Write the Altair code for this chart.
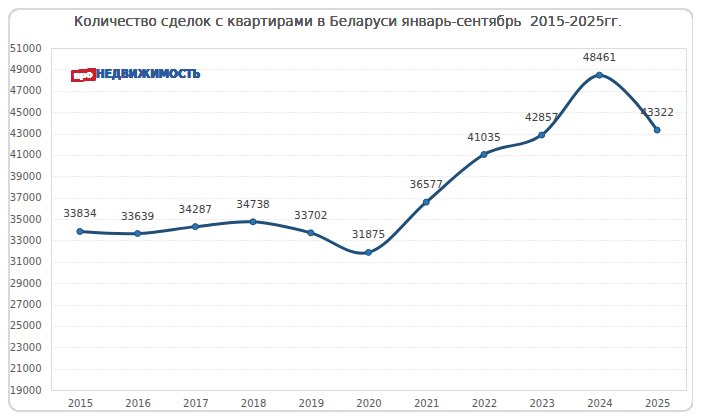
import altair as alt
import pandas as pd

years = ["2015", "2016", "2017", "2018", "2019", "2020", "2021", "2022", "2023", "2024", "2025"]
deals = [33834, 33639, 34287, 34738, 33702, 31875, 36577, 41035, 42857, 48461, 43322]
y_ticks = list(range(19000, 51001, 2000))
title_text = "Количество сделок с квартирами в Беларуси январь-сентябрь\u00a0\u00a02015-2025гг."

df = pd.DataFrame({"year": years, "deals": deals})
FONT = "DejaVu Sans"

x_enc = alt.X("year:N", sort=years, title=None,
              scale=alt.Scale(paddingInner=1, paddingOuter=0.5),
              axis=alt.Axis(labelAngle=0, ticks=False, domain=True, domainColor="#d9d9d9",
                            labelColor="#595959", labelFont=FONT, labelFontSize=10,
                            labelPadding=8, grid=False))
y_enc = alt.Y("deals:Q", title=None,
              scale=alt.Scale(domain=[19000, 51000], nice=False, zero=False),
              axis=alt.Axis(values=y_ticks, format="d", ticks=False, domain=False,
                            labelColor="#595959", labelFont=FONT, labelFontSize=10,
                            labelPadding=10, grid=True, gridColor="#d9d9d9",
                            gridDash=[1, 2]))

base = alt.Chart(df).encode(x=x_enc, y=y_enc)

line = base.mark_line(interpolate="cardinal", color="#1F4E79", strokeWidth=3)
pts = base.mark_point(filled=True, size=36, color="#2E75B6", opacity=1,
                      stroke="#1F4E79", strokeWidth=1)
labels = base.mark_text(dy=-17, font=FONT, fontSize=10.5, color="#404040").encode(
    text=alt.Text("deals:Q", format="d"))

border = alt.Chart(df).mark_rect(fill=None, stroke="#d9d9d9", strokeWidth=1.5,
                                 cornerRadius=10).encode(
    x=alt.value(-42), x2=alt.value(642), y=alt.value(-39), y2=alt.value(363))

title = alt.Chart(df).mark_text(text=title_text, font=FONT, fontSize=13.6,
                                fontWeight=200, color="#595959", align="center").encode(
    x=alt.value(297), y=alt.value(-26))

badge_path = "M-1,-0.35 L1,-0.6 L1,0.45 L-1,0.6 Z"
logo_bg = alt.Chart(df).mark_point(shape=badge_path, filled=True, color="#C8202F",
                                   opacity=1, size=560).encode(
    x=alt.value(32.5), y=alt.value(27))
logo_pro = alt.Chart(df).mark_text(text="про", font=FONT, fontSize=9, fontWeight="bold",
                                   color="white", angle=355).encode(
    x=alt.value(32), y=alt.value(27))
logo_name = alt.Chart(df).mark_text(text="НЕДВИЖИМОСТЬ",
                                    font="DejaVu Sans Condensed",
                                    fontSize=11.5, fontWeight="bold", color="#2B5A9A",
                                    align="left").encode(
    x=alt.value(45), y=alt.value(27))

chart = alt.layer(border, title, line, pts, labels, logo_bg, logo_pro, logo_name).properties(
    width=635, height=342,
    autosize=alt.AutoSizeParams(type="none"),
    padding={"left": 43, "top": 40, "right": 7, "bottom": 22},
).configure_view(stroke=None).configure(background="white")

chart.save("out.html", embed_options={"renderer": "svg", "actions": False})
